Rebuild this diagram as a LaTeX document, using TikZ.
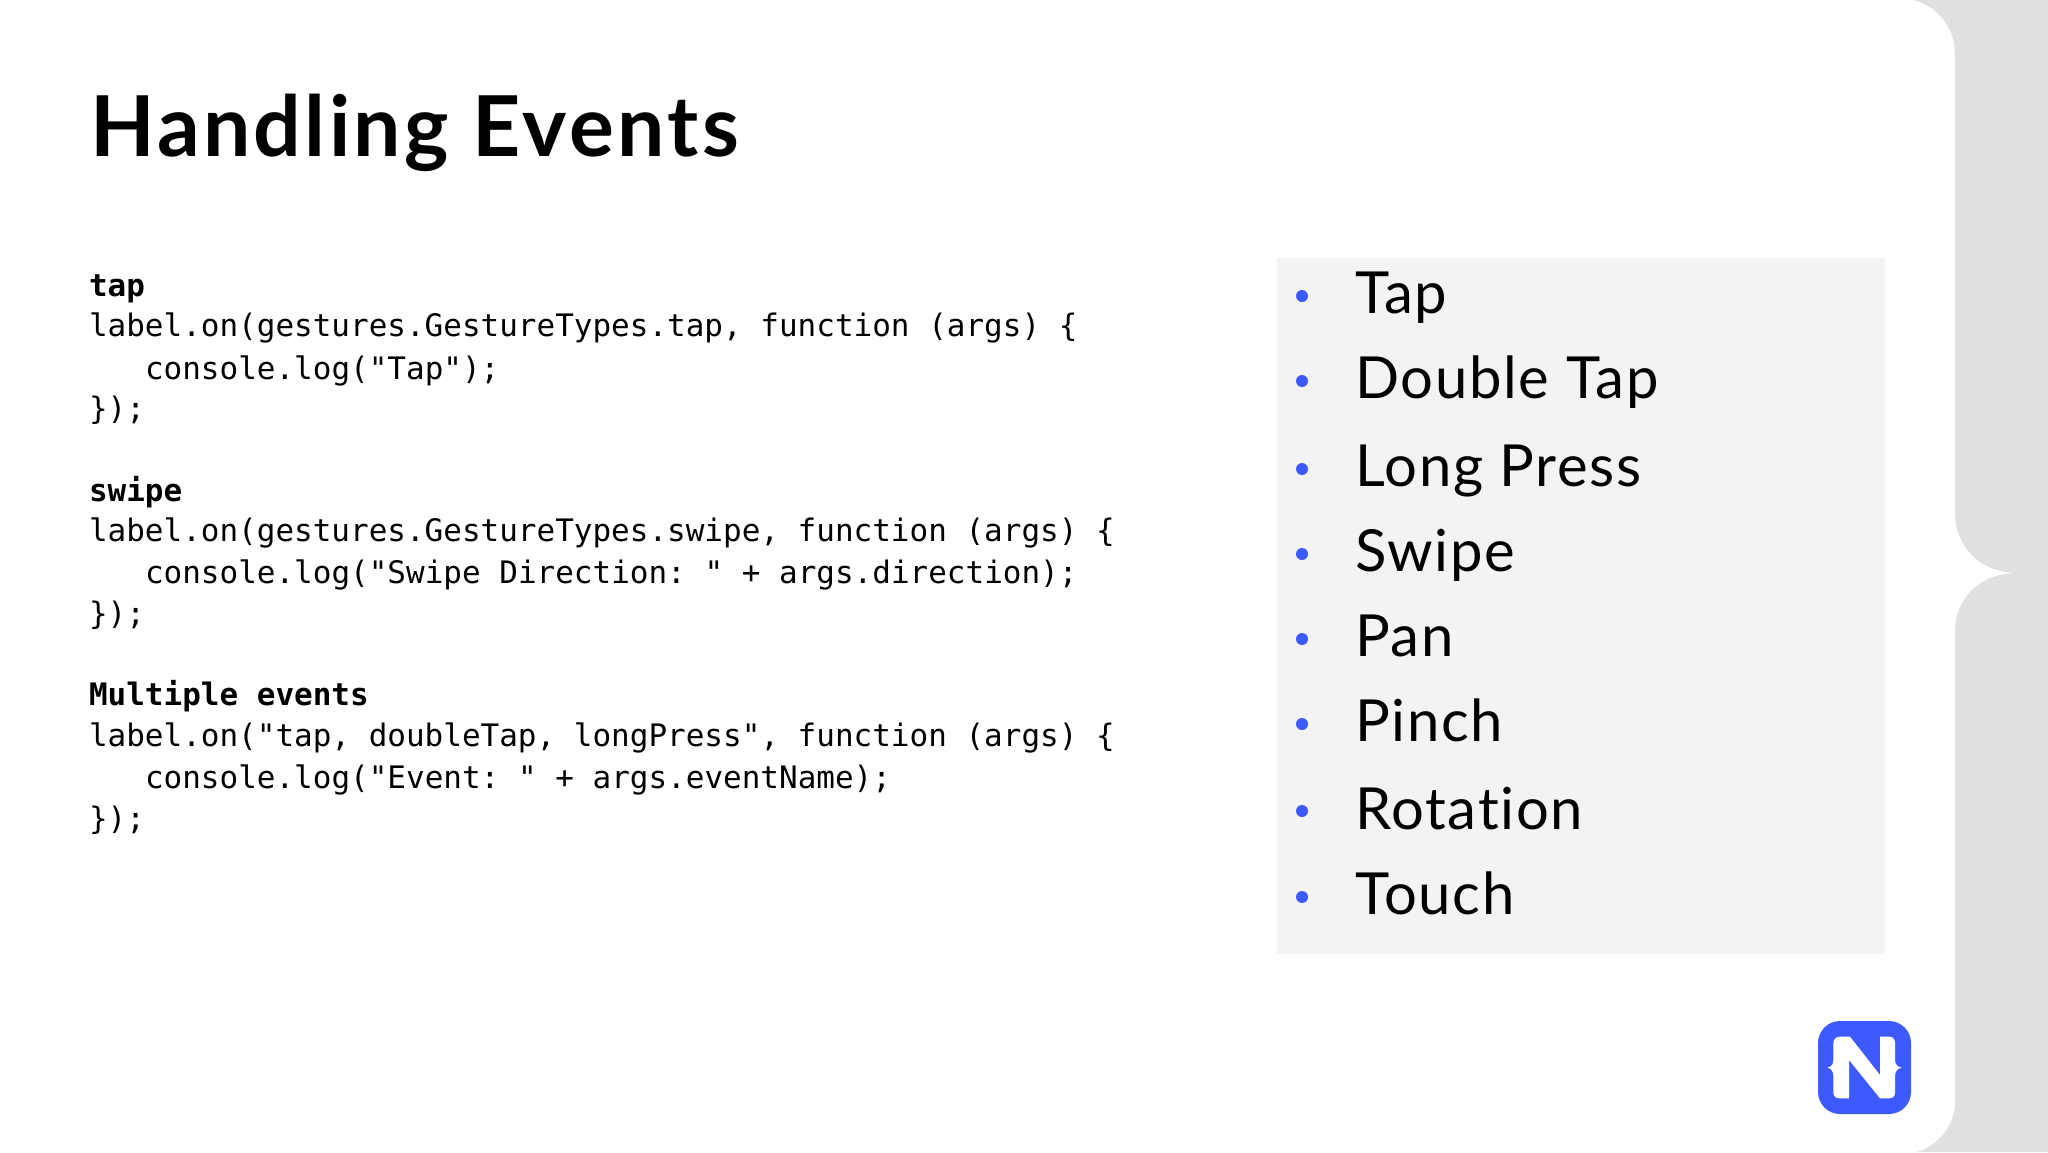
\documentclass[tikz,border=0pt]{standalone}
\usepackage{fontspec}
\setmainfont[Ligatures=NoCommon,LetterSpace=3]{Lato}
\newfontfamily\codefont{DejaVu Sans Mono}
\newfontfamily\titlefont[LetterSpace=4,Ligatures=NoCommon]{Lato Bold}
\definecolor{sidegray}{HTML}{E0DFE1}
\definecolor{panelgray}{HTML}{F3F2F4}
\definecolor{nsblue}{HTML}{3D5AFE}
\tikzset{
  base/.style={anchor=base west,inner sep=0pt,outer sep=0pt,text=black},
  code/.style={base,font=\codefont\frenchspacing\fontsize{15.49pt}{15.49pt}\selectfont},
  codebold/.style={code,font=\codefont\frenchspacing\bfseries\fontsize{15.49pt}{15.49pt}\selectfont},
  item/.style={base,font=\fontsize{29pt}{29pt}\selectfont},
  dot/.style={circle,fill=nsblue,draw=none,minimum size=6pt,inner sep=0pt},
  heading/.style={base,font=\titlefont\fontsize{42pt}{42pt}\selectfont}
}
\begin{document}
\begin{tikzpicture}[x=0.5pt,y=-0.5pt]
\useasboundingbox (0,0) rectangle (2048,1152);
\fill[white] (0,0) rectangle (2048,1152);
% side band with notch
\fill[sidegray] (1913,0) .. controls (1938,6) and (1955,28) .. (1955,55)
  -- (1955,513) .. controls (1955,546) and (1980,573) .. (2018,573)
  .. controls (1980,573) and (1955,598) .. (1955,632)
  -- (1955,1103) .. controls (1955,1125) and (1938,1146) .. (1917,1152)
  -- (2048,1152) -- (2048,0) -- cycle;
% panel
\fill[panelgray] (1277,258) rectangle (1885,954);
% title
\node[heading] (title) at (90,156) {Handling Events};
% code blocks
\node[codebold] (h1) at (89,296) {tap};
\node[code] (l11) at (89,336) {label.on(gestures.GestureTypes.tap, function (args) \{};
\node[code] (l12) at (145,379) {console.log("Tap");};
\node[code] (l13) at (89,419) {\});};
\node[codebold] (h2) at (89,501) {swipe};
\node[code] (l21) at (89,541) {label.on(gestures.GestureTypes.swipe, function (args) \{};
\node[code] (l22) at (145,583) {console.log("Swipe Direction: " + args.direction);};
\node[code] (l23) at (89,624) {\});};
\node[codebold] (h3) at (89,705) {Multiple events};
\node[code] (l31) at (89,746) {label.on("tap, doubleTap, longPress", function (args) \{};
\node[code] (l32) at (145,788) {console.log("Event: " + args.eventName);};
\node[code] (l33) at (89,829) {\});};
% list
\node[dot] (d1) at (1302,296) {};
\node[dot] (d2) at (1302,381) {};
\node[dot] (d3) at (1302,469) {};
\node[dot] (d4) at (1302,554) {};
\node[dot] (d5) at (1302,639) {};
\node[dot] (d6) at (1302,724) {};
\node[dot] (d7) at (1302,811) {};
\node[dot] (d8) at (1302,897) {};
\node[item] (i1) at (1355,313) {Tap};
\node[item] (i2) at (1355,398) {Double Tap};
\node[item] (i3) at (1355,486) {Long Press};
\node[item] (i4) at (1355,571) {Swipe};
\node[item] (i5) at (1355,656) {Pan};
\node[item] (i6) at (1355,741) {Pinch};
\node[item] (i7) at (1355,829) {Rotation};
\node[item] (i8) at (1355,914) {Touch};
% logo
\fill[nsblue,rounded corners=11pt] (1818,1021) rectangle (1911,1114);
\begin{scope}[shift={(1780,980)},x=0.16667pt,y=-0.16667pt]
\fill[white] (160,190) .. controls (160,178) and (168,170) .. (180,170)
  -- (210,170) -- (300,285) -- (300,170) -- (328,170)
  .. controls (338,170) and (345,178) .. (345,188)
  -- (345,240) .. controls (345,252) and (352,261) .. (365,263)
  .. controls (352,265) and (345,275) .. (345,287)
  -- (345,338) .. controls (345,348) and (338,355) .. (328,355)
  -- (300,355) -- (207,240) -- (207,355) -- (178,355)
  .. controls (168,355) and (160,348) .. (160,338)
  -- (160,287) .. controls (160,275) and (154,265) .. (142,263)
  .. controls (154,261) and (160,252) .. (160,240) -- cycle;
\end{scope}
\end{tikzpicture}
\end{document}
